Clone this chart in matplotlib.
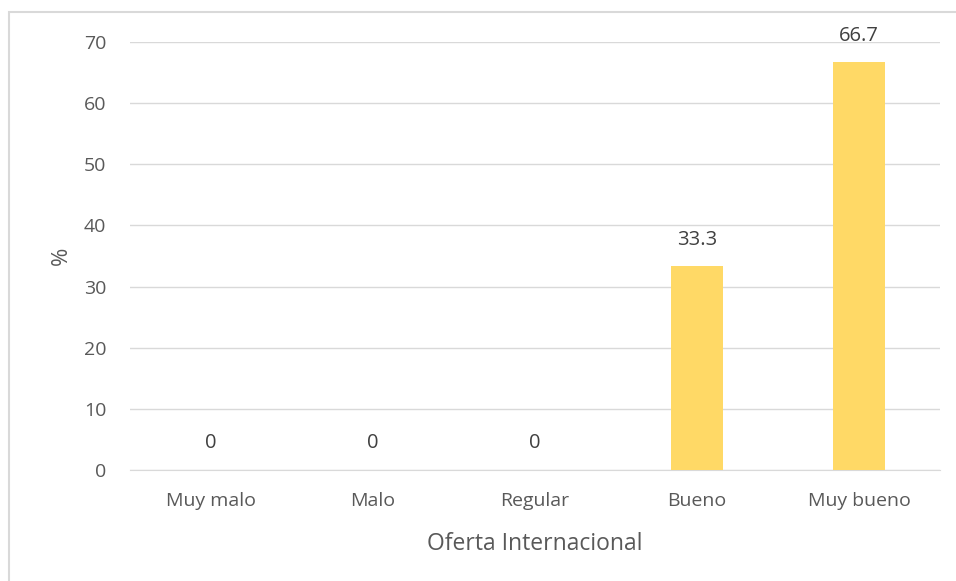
import matplotlib
matplotlib.use("Agg")
import matplotlib.pyplot as plt
from matplotlib.patches import Rectangle

# data
categorias = ["Muy malo", "Malo", "Regular", "Bueno", "Muy bueno"]
porcentaje = [0, 0, 0, 33.3, 66.7]
etiquetas = ["0", "0", "0", "33.3", "66.7"]

plt.rcParams['font.family'] = ['Open Sans', 'DejaVu Sans']
gris = "#595959"

fig = plt.figure(figsize=(9.56, 5.81), dpi=100)
ax = fig.add_axes([130/956, 1-470/581, 810/956, 428/581])

x = range(len(categorias))
ax.bar(x, porcentaje, width=0.315, color="#FFD966", zorder=3)
for xi, v, t in zip(x, porcentaje, etiquetas):
    ax.annotate(t, (xi, v), xytext=(0, 12), textcoords="offset points",
                ha="center", va="bottom", fontsize=14.5, color="#404040")

ax.set_xlim(-0.5, 4.5)
ax.set_ylim(0, 70)
ax.set_yticks(range(0, 71, 10))
ax.set_xticks(list(x))
ax.set_xticklabels(categorias)
ax.grid(axis="y", color="#D9D9D9", linewidth=1, zorder=0)
for s in ["top", "right", "left"]:
    ax.spines[s].set_visible(False)
ax.spines["bottom"].set_color("#D9D9D9")
ax.tick_params(length=0, labelsize=14, colors=gris)
ax.tick_params(axis="y", pad=17)
ax.tick_params(axis="x", pad=16)
ax.set_xlabel("Oferta Internacional", fontsize=16.5, color=gris, labelpad=16)
ax.set_ylabel("%", fontsize=16, color=gris, labelpad=9)

# chart frame, cut off at right and bottom like the reference
fig.patches.append(Rectangle((9/956, -0.1), 1.1, 1-12/581+0.1, transform=fig.transFigure,
                             fill=False, edgecolor="#D9D9D9", linewidth=1.5))

fig.savefig("out.png", dpi=100)
